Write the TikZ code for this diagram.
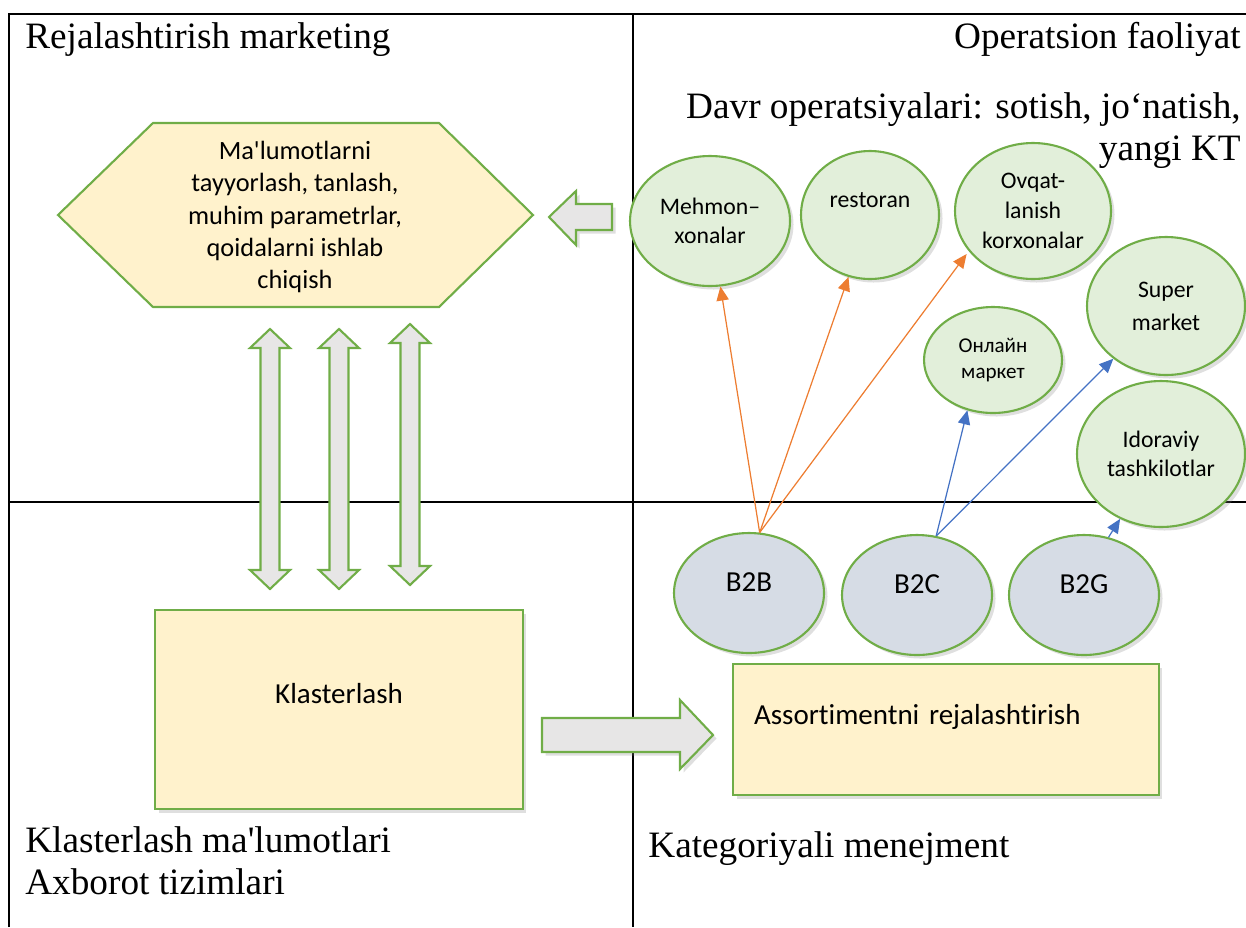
\documentclass[tikz,border=0pt]{standalone}
\usepackage{fontspec}
\newfontfamily\timesfont{Liberation Serif}
\newfontfamily\calfont{Carlito}[Ligatures={NoCommon}]
\usetikzlibrary{shapes.geometric,arrows.meta,shadows}
\definecolor{frgreen}{HTML}{70AD47}
\definecolor{ovgreen}{HTML}{E2EFDA}
\definecolor{segblue}{HTML}{D6DCE5}
\definecolor{cardyellow}{HTML}{FFF2CC}
\definecolor{arrgray}{HTML}{E7E6E6}
\definecolor{arrorange}{HTML}{ED7D31}
\definecolor{arrblue}{HTML}{4472C4}

\begin{document}
\begin{tikzpicture}[x=0.02cm, y=-0.02cm]
        \tikzstyle{every node}=[inner sep=0pt]
        \tikzstyle{bigtext}=[font=\timesfont\fontsize{21.2}{25}\selectfont]
        \tikzstyle{oval}=[ellipse, draw=frgreen, line width=1.2pt, fill=ovgreen, align=center, font=\calfont\fontsize{13.5}{16.5}\selectfont, drop shadow={opacity=0.25, shadow xshift=2pt, shadow yshift=-2pt}]
        \tikzstyle{seg}=[oval, fill=segblue, font=\calfont\fontsize{16.5}{20}\selectfont, minimum width=3cm, minimum height=2.4cm, text depth=12.4pt]
        \tikzstyle{card}=[draw=frgreen, line width=1.2pt, fill=cardyellow, font=\calfont\fontsize{16.5}{20}\selectfont, drop shadow={opacity=0.25, shadow xshift=2pt, shadow yshift=-2pt}]
        \tikzstyle{fat}=[draw=frgreen, line width=1.2pt, fill=arrgray]
        \tikzstyle{link}=[line width=0.7pt, -{Triangle[length=8pt,width=7pt]}]
        \useasboundingbox (0,0) rectangle (1246,927);
        % quadrants
        \draw[line width=1pt] (9,927) -- (9,14) -- (1246,14);
        \draw[line width=1pt] (633,14) -- (633,927);
        \draw[line width=1pt] (9,502) -- (1246,502);
        \node[bigtext, anchor=base west] (plan) at (25,48) {Rejalashtirish marketing};
        \node[bigtext, anchor=base east] (oper) at (1241,48) {Operatsion faoliyat};
        \node[bigtext, anchor=base east] (davr) at (1241,118) {Davr operatsiyalari: sotish, jo‘natish,};
        \node[bigtext, anchor=base east] (yangi) at (1241,160) {yangi KT};
        \node[bigtext, anchor=base west] (klmal) at (25,852) {Klasterlash ma'lumotlari};
        \node[bigtext, anchor=base west] (axb) at (25,894) {Axborot tizimlari};
        \node[bigtext, anchor=base west] (kat) at (648,857) {Kategoriyali menejment};
        % hexagon
        \draw[draw=frgreen, line width=1.2pt, fill=cardyellow] (58,215) -- (153,123) -- (439,123) -- (533,215) -- (439,307) -- (153,307) -- cycle;
        \node[align=center, font=\calfont\fontsize{15}{18.4}\selectfont] (prep) at (295,217) {Ma'lumotlarni\\tayyorlash, tanlash,\\muhim parametrlar,\\qoidalarni ishlab\\chiqish};
        % block arrows
        \draw[fat, drop shadow={opacity=0.25, shadow xshift=2pt, shadow yshift=-2pt}] (549,217) -- (576,191) -- (576,204) -- (612,204) -- (612,230) -- (576,230) -- (576,245) -- cycle;
        \foreach \c/\t/\b in {270/329/589, 339/329/589, 410/324/585}
            \draw[fat] (\c,\t) -- ({\c+20},{\t+19}) -- ({\c+9.5},{\t+19}) -- ({\c+9.5},{\b-19}) -- ({\c+20},{\b-19}) -- (\c,\b) -- ({\c-20},{\b-19}) -- ({\c-9.5},{\b-19}) -- ({\c-9.5},{\t+19}) -- ({\c-20},{\t+19}) -- cycle;
        \draw[fat, drop shadow={opacity=0.25, shadow xshift=2pt, shadow yshift=-2pt}] (542,718) -- (680,718) -- (680,700) -- (713,735) -- (680,769) -- (680,752) -- (542,752) -- cycle;
        % boxes
        \node[card, minimum width=7.36cm, minimum height=3.98cm, text depth=18.6pt] (klast) at (339,709.5) {Klasterlash};
        \node[card, minimum height=2.62cm, text width=7.68cm, inner xsep=0.42cm, align=left, text depth=17.4pt] (assort) at (946,729.5) {Assortimentni rejalashtirish};
        % ovals
        \node[oval, minimum width=3.2cm, minimum height=2.6cm] (mehmon) at (710,221) {Mehmon–\\xonalar};
        \node[oval, minimum width=2.76cm, minimum height=2.56cm, text depth=16.6pt] (restoran) at (870,215) {restoran};
        \node[oval, minimum width=3.12cm, minimum height=2.72cm, font=\calfont\fontsize{13.5}{17}\selectfont] (ovqat) at (1033,211) {Ovqat-\\lanish\\korxonalar};
        \node[oval, minimum width=3.16cm, minimum height=2.76cm, font=\calfont\fontsize{13.5}{18.7}\selectfont] (super) at (1166,306) {Super\\market};
        \node[oval, minimum width=2.76cm, minimum height=2.12cm, font=\calfont\fontsize{12}{14.7}\selectfont] (onlayn) at (993,360) {Онлайн\\маркет};
        \node[oval, minimum width=3.36cm, minimum height=2.92cm] (idora) at (1161,454) {Idoraviy\\tashkilotlar};
        \node[seg] (btob) at (749,593) {B2B};
        \node[seg] (btoc) at (917,595) {B2C};
        \node[seg] (btog) at (1084,595) {B2G};
        % links
        \draw[link, color=arrorange] (btob.80) -- (mehmon);
        \draw[link, color=arrorange] (btob.80) -- (restoran);
        \draw[link, color=arrorange, shorten >=2pt] (btob.80) -- (ovqat.212);
        \draw[link, color=arrblue] (btoc.72) -- (onlayn.243);
        \draw[link, color=arrblue] (btoc.72) -- (super);
        \draw[link, color=arrblue] (btog.67) -- (idora);
    \end{tikzpicture}
\end{document}
